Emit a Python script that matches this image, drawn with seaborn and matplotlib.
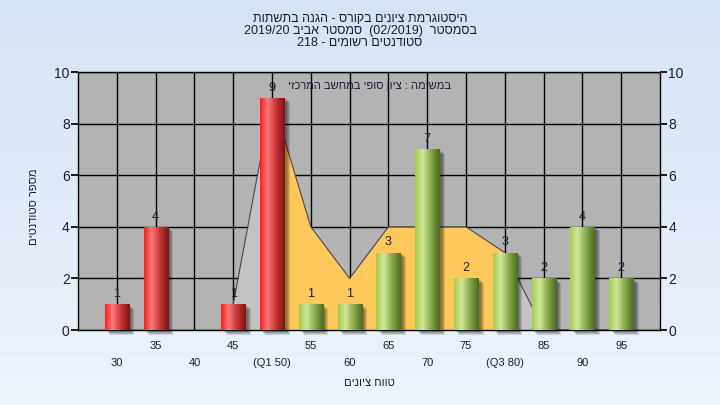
import re
import numpy as np
import pandas as pd
import matplotlib
matplotlib.use("Agg")
import matplotlib.pyplot as plt
import matplotlib.transforms as mtransforms
from matplotlib.patches import Rectangle
from matplotlib.colors import LinearSegmentedColormap
import seaborn as sns

# data
grade_labels = ["30", "35", "40", "45", "(Q1 50)", "55", "60", "65", "70",
                "75", "(Q3 80)", "85", "90", "95"]
student_counts = [1, 4, 0, 1, 9, 1, 1, 3, 7, 2, 3, 2, 4, 2]
bar_groups = ["low"] * 5 + ["high"] * 9
spread_values = [np.nan, np.nan, np.nan, 1, 9, 4, 2, 4, 4, 4, 3, 0, 0, 0]
q1_pos = 4
q3_pos = 10
y_ticks = [0, 2, 4, 6, 8, 10]

title_lines = [
    "היסטוגרמת ציונים בקורס - הגנה בתשתות",
    "בסמסטר  (02/2019)  סמסטר אביב 2019/20",
    "סטודנטים רשומים - 218",
]
note_text = "במשימה : ציון סופי במחשב המרכזי"
x_title = "טווח ציונים"
y_title = "מספר סטודנטים"

TEXT_COLOR = "#1c1c3a"
PLOT_BG = "#b3b3b3"
YELLOW = "#fec95a"
LIGHT_GRAY = "#c3c3c3"
FONTS = ["Liberation Sans", "DejaVu Sans"]


def rtl(text):
    # matplotlib has no bidi support: put hebrew in visual order
    flipped = text[::-1]
    flipped = re.sub(r"[0-9A-Za-z/.]+", lambda m: m.group(0)[::-1], flipped)
    return flipped.translate(str.maketrans("()", ")("))


sns.set_theme(style="white")
plt.rcParams["font.family"] = FONTS

fig = plt.figure(figsize=(7.2, 4.05), dpi=100)

# light blue gradient background
bg = fig.add_axes([0, 0, 1, 1], zorder=-10)
bg_cmap = LinearSegmentedColormap.from_list("bg", ["#d6e3f4", "#eef4fc"])
bg.imshow(np.linspace(0, 1, 256).reshape(-1, 1), cmap=bg_cmap, aspect="auto",
          extent=[0, 1, 0, 1])
bg.set_axis_off()

ax = fig.add_axes([78 / 720, 75 / 405, 582 / 720, 258 / 405])
ax.set_facecolor(PLOT_BG)

df = pd.DataFrame({"grade": grade_labels, "students": student_counts,
                   "group": bar_groups})
sns.barplot(data=df, x="grade", y="students", hue="group",
            palette={"low": "#e53030", "high": "#9cc54a"}, dodge=False,
            width=0.62, legend=False, ax=ax, zorder=3)
bars = list(ax.patches)

# background distribution area: yellow between Q1 and Q3, gray outside
pos = np.arange(len(grade_labels))
spread = np.array(spread_values, dtype=float)
ax.fill_between(pos, spread, where=pos <= q1_pos, color=LIGHT_GRAY, lw=0, zorder=1)
ax.fill_between(pos, spread, where=pos >= q3_pos, color=LIGHT_GRAY, lw=0, zorder=1)
ax.fill_between(pos, spread, where=(pos >= q1_pos) & (pos <= q3_pos),
                color=YELLOW, lw=0, zorder=1.1)
sns.lineplot(x=pos, y=spread, color="#4a4a4a", lw=0.8, ax=ax, zorder=1.2)

red_map = LinearSegmentedColormap.from_list(
    "red", [(0, "#ff1e1e"), (0.3, "#fb7a7a"), (0.65, "#c83434"), (1, "#7c1414")])
green_map = LinearSegmentedColormap.from_list(
    "green", [(0, "#a4cc48"), (0.3, "#d2e89c"), (0.65, "#86a848"), (1, "#4c6a26")])
grad = np.linspace(0, 1, 64).reshape(1, -1)

for bar in bars:
    h = bar.get_height()
    if h <= 0:
        bar.set_visible(False)
        continue
    x0, w = bar.get_x(), bar.get_width()
    is_red = bar.get_facecolor()[0] > 0.8
    # soft shadow to the lower right
    for k in range(4):
        off = mtransforms.ScaledTranslation((2.5 + k) / 100, -(1.5 + k) / 100,
                                            fig.dpi_scale_trans)
        ax.add_patch(Rectangle((x0, 0), w, h, transform=ax.transData + off,
                               color="black", alpha=0.13, lw=0, zorder=2.5,
                               clip_on=False))
    img = ax.imshow(grad, cmap=red_map if is_red else green_map, aspect="auto",
                    extent=[x0, x0 + w, 0, h], zorder=3.1)
    img.set_clip_path(bar)
    bar.set_edgecolor("none")

for container in ax.containers:
    labels = [f"{v:.0f}" if v > 0 else "" for v in container.datavalues]
    ax.bar_label(container, labels=labels, padding=3, fontsize=9,
                 color=TEXT_COLOR, zorder=4)

ax.set_xlim(-1, len(grade_labels))
ax.set_ylim(0, 10)
ax.set_yticks(y_ticks)
ax.set_xticks(pos)
ax.set_xticklabels(grade_labels, fontsize=8, color=TEXT_COLOR)
ax.grid(True, color="black", lw=1)
ax.set_axisbelow(True)
for s in ax.spines.values():
    s.set_color("black")
    s.set_linewidth(1)
ax.tick_params(axis="x", length=3, color="black", direction="out")
ax.tick_params(axis="y", length=5, color="black", direction="out", pad=1,
               labelsize=10, labelcolor=TEXT_COLOR)
for i, tick in enumerate(ax.xaxis.get_major_ticks()):
    tick.set_pad(17 if i % 2 == 0 else 5)
ax.set_xlabel(rtl(x_title), fontsize=8, color=TEXT_COLOR, labelpad=7)
ax.set_ylabel("")

ax2 = ax.twinx()
ax2.set_ylim(0, 10)
ax2.set_yticks(y_ticks)
ax2.tick_params(axis="y", length=5, color="black", direction="out", pad=1,
                labelsize=10, labelcolor=TEXT_COLOR)
ax2.grid(False)
for s in ax2.spines.values():
    s.set_visible(False)

fig.text(34 / 720, 1 - 207 / 405, rtl(y_title), rotation=90, fontsize=8,
         color=TEXT_COLOR, ha="center", va="center")
fig.text(370 / 720, 1 - 86 / 405, rtl(note_text), fontsize=8,
         color=TEXT_COLOR, ha="center", va="center")
for i, line in enumerate(title_lines):
    fig.text(0.5, 1 - (18.5 + 12.5 * i) / 405, rtl(line), fontsize=9,
             color=TEXT_COLOR, ha="center", va="center")

fig.savefig("out.png", dpi=100)
